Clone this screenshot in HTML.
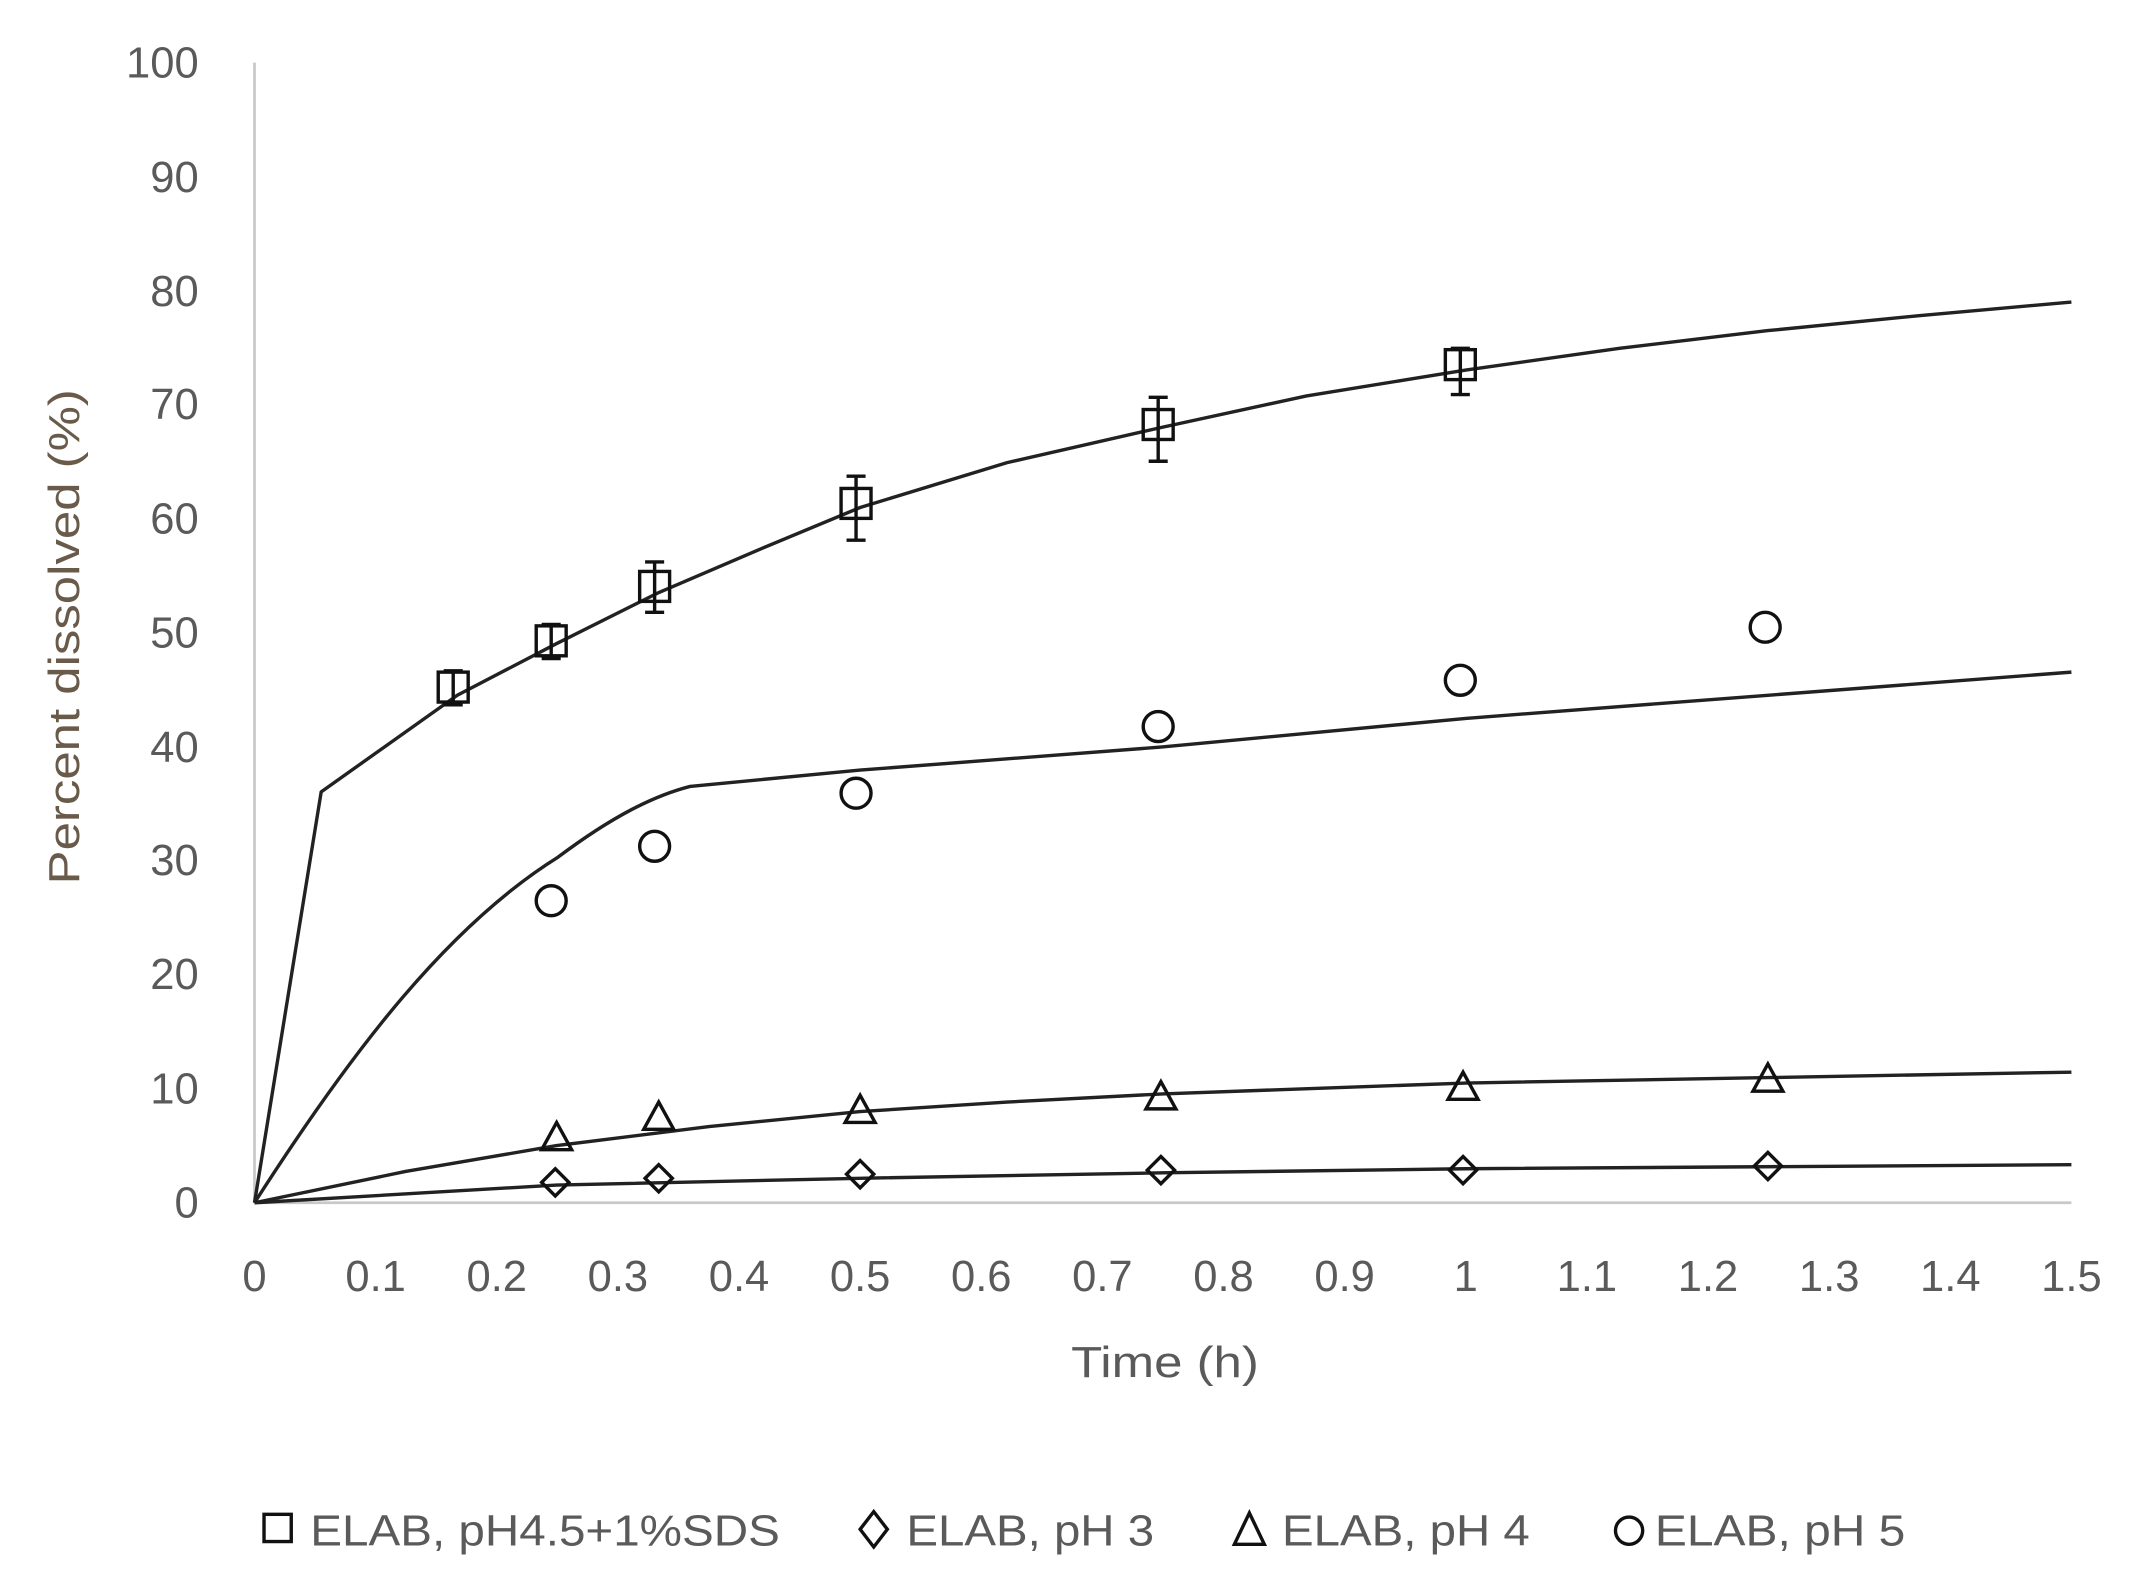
<!DOCTYPE html>
<html><head><style>html,body{margin:0;padding:0;background:#fff;}svg{display:block}</style></head>
<body>
<svg width="2134" height="1581" viewBox="0 0 1568 1162" preserveAspectRatio="none" xmlns="http://www.w3.org/2000/svg" font-family="Liberation Sans, sans-serif">
<rect width="1568" height="1162" fill="#fff"/>
<line x1="187" y1="46" x2="187" y2="884" stroke="#c8c8c8" stroke-width="2"/>
<line x1="187" y1="884" x2="1522" y2="884" stroke="#c8c8c8" stroke-width="2"/>
<g fill="#5a5a5a" font-size="32" text-anchor="end">
<text x="146" y="57">100</text><text x="146" y="141">90</text><text x="146" y="225">80</text><text x="146" y="308">70</text><text x="146" y="392">60</text><text x="146" y="476">50</text><text x="146" y="560">40</text><text x="146" y="643">30</text><text x="146" y="727">20</text><text x="146" y="811">10</text><text x="146" y="895">0</text>
</g>
<g fill="#5a5a5a" font-size="32" text-anchor="middle">
<text x="187" y="949">0</text><text x="276" y="949">0.1</text><text x="365" y="949">0.2</text><text x="454" y="949">0.3</text><text x="543" y="949">0.4</text><text x="632" y="949">0.5</text><text x="721" y="949">0.6</text><text x="810" y="949">0.7</text><text x="899" y="949">0.8</text><text x="988" y="949">0.9</text><text x="1077" y="949">1</text><text x="1166" y="949">1.1</text><text x="1255" y="949">1.2</text><text x="1344" y="949">1.3</text><text x="1433" y="949">1.4</text><text x="1522" y="949">1.5</text>
<text x="856" y="1012" textLength="138" lengthAdjust="spacingAndGlyphs">Time (h)</text>
</g>
<text transform="translate(58,468) rotate(-90)" fill="#6a5a4a" font-size="32" text-anchor="middle" textLength="364" lengthAdjust="spacingAndGlyphs">Percent dissolved (%)</text>
<g fill="none" stroke="#222" stroke-width="2.5" stroke-linejoin="round">
<polyline points="187,884 236,582 336,511 409,473 483,436 560,403 632,373 740,340 854,314 960,291 1077,272 1190,256 1299,243 1410,232 1522,222"/>
<path d="M187,884 C260,770 330,680 410,630 C450,600 480,585 507,578 L632,566 L854,549 L1077,528 L1299,511 L1522,494"/>
<polyline points="187,884 298,861 409,842 521,828 632,817 740,810 854,804 1077,796 1299,792 1522,788"/>
<polyline points="187,884 409,871 632,866 854,862 1077,859 1522,856"/>
</g>
<g fill="none" stroke="#111" stroke-width="2.5">
<path d="M333,493v25M326,493h14M326,518h14"/><rect x="322" y="494" width="22" height="22"/>
<path d="M405,459v25M398,459h14M398,484h14"/><rect x="394" y="460" width="22" height="22"/>
<path d="M481,413v37M474,413h14M474,450h14"/><rect x="470" y="420" width="22" height="22"/>
<path d="M629,350v47M622,350h14M622,397h14"/><rect x="618" y="359" width="22" height="22"/>
<path d="M851,292v47M844,292h14M844,339h14"/><rect x="840" y="301" width="22" height="22"/>
<path d="M1073,256v34M1066,256h14M1066,290h14"/><rect x="1062" y="257" width="22" height="22"/>
<circle cx="405" cy="662" r="11"/><circle cx="481" cy="622" r="11"/><circle cx="629" cy="583" r="11"/><circle cx="851" cy="534" r="11"/><circle cx="1073" cy="500" r="11"/><circle cx="1297" cy="461" r="11"/>
<polygon points="409,825 398,845 420,845"/><polygon points="484,810 473,830 495,830"/><polygon points="632,805 621,825 643,825"/><polygon points="853,795 842,815 864,815"/><polygon points="1075,788 1064,808 1086,808"/><polygon points="1299,782 1288,802 1310,802"/>
<polygon points="408,859 418,869 408,879 398,869"/><polygon points="484,856 494,866 484,876 474,866"/><polygon points="632,853 642,863 632,873 622,863"/><polygon points="853,850 863,860 853,870 843,860"/><polygon points="1075,850 1085,860 1075,870 1065,860"/><polygon points="1299,847 1309,857 1299,867 1289,857"/>
<rect x="194" y="1113" width="20" height="20"/>
<polygon points="642,1111 652,1124 642,1137 632,1124"/>
<polygon points="918,1112 907,1135 929,1135"/>
<circle cx="1197" cy="1125" r="10"/>
</g>
<g fill="#5a5a5a" font-size="32">
<text x="228" y="1136" textLength="345" lengthAdjust="spacingAndGlyphs">ELAB, pH4.5+1%SDS</text>
<text x="666" y="1136" textLength="182" lengthAdjust="spacingAndGlyphs">ELAB, pH 3</text>
<text x="942" y="1136" textLength="182" lengthAdjust="spacingAndGlyphs">ELAB, pH 4</text>
<text x="1216" y="1136" textLength="184" lengthAdjust="spacingAndGlyphs">ELAB, pH 5</text>
</g>
</svg>
</body></html>
